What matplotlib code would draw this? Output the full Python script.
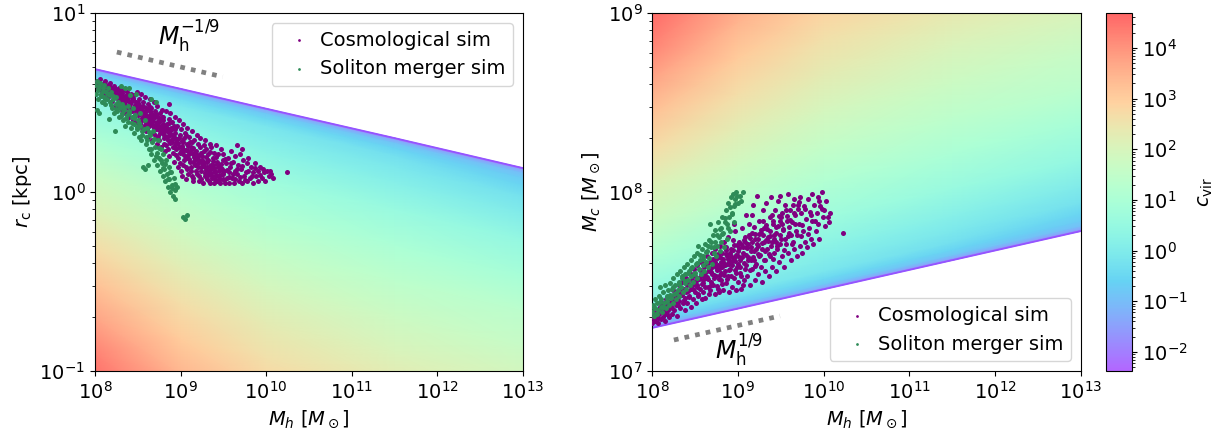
import numpy as np
import matplotlib
matplotlib.use("Agg")
import matplotlib.pyplot as plt
from matplotlib.colors import LogNorm, ListedColormap
from matplotlib.ticker import NullLocator

# ---------------------------------------------------------------------------
# Concentration field c_vir tabulated on (halo mass, depth below the edge)
# ---------------------------------------------------------------------------
field_logMh = [8.0, 9.0, 10.0, 11.5, 13.0]           # log10 M_h [Msun]
rc_edge = [4.86, 3.77, 2.92, 2.00, 1.36]              # largest core radius [kpc]
mc_edge = [1.74e7, 2.23e7, 2.86e7, 4.16e7, 6.05e7]    # smallest core mass [Msun]
field_depth = [0.0, 0.012, 0.03, 0.06, 0.1, 0.16, 0.25, 0.4, 0.6, 0.8,
               1.0, 1.2, 1.4, 1.6, 1.8]                # dex away from the edge
field_logc = [
    [-2.4, -1.2, -0.7, -0.35, -0.05, 0.25, 0.6, 1.1, 1.7, 2.15, 2.7, 3.2, 3.75, 4.3, 4.8],
    [-2.4, -1.25, -0.75, -0.4, -0.1, 0.15, 0.45, 0.85, 1.35, 1.8, 2.25, 2.65, 3.05, 3.45, 3.85],
    [-2.4, -1.3, -0.8, -0.45, -0.15, 0.05, 0.3, 0.7, 1.15, 1.55, 1.95, 2.3, 2.6, 2.95, 3.25],
    [-2.4, -1.35, -0.85, -0.55, -0.3, -0.1, 0.15, 0.55, 1.0, 1.4, 1.75, 2.05, 2.4, 2.7, 3.0],
    [-2.4, -1.4, -0.95, -0.7, -0.5, -0.25, 0.0, 0.45, 0.9, 1.35, 1.65, 2.0, 2.3, 2.6, 2.9],
]
cvir_min, cvir_max = 4.2e-3, 4.9e4

# ---------------------------------------------------------------------------
# Simulated haloes: (log10 M_h, log10 r_c [kpc])
# ---------------------------------------------------------------------------
cosmo_rc = [
    (8.01, 0.60), (8.02, 0.62), (8.03, 0.58), (8.05, 0.61), (8.06, 0.63), (8.07, 0.57),
    (8.09, 0.60), (8.11, 0.55), (8.12, 0.62), (8.13, 0.58),
    (8.15, 0.53), (8.16, 0.60), (8.17, 0.57), (8.18, 0.61),
    (8.20, 0.51), (8.21, 0.56), (8.22, 0.59), (8.23, 0.54),
    (8.25, 0.48), (8.26, 0.57), (8.27, 0.52), (8.28, 0.58), (8.29, 0.50),
    (8.30, 0.55), (8.31, 0.46), (8.32, 0.53), (8.33, 0.57), (8.34, 0.49),
    (8.35, 0.44), (8.36, 0.51), (8.37, 0.56), (8.38, 0.47), (8.39, 0.53),
    (8.40, 0.42), (8.41, 0.49), (8.42, 0.55), (8.43, 0.45), (8.44, 0.52), (8.44, 0.40),
    (8.45, 0.47), (8.46, 0.54), (8.47, 0.43), (8.48, 0.50), (8.49, 0.39), (8.49, 0.56),
    (8.50, 0.45), (8.51, 0.52), (8.52, 0.38), (8.53, 0.48), (8.54, 0.41), (8.54, 0.55),
    (8.55, 0.36), (8.56, 0.50), (8.57, 0.44), (8.58, 0.53), (8.59, 0.39), (8.59, 0.47),
    (8.60, 0.34), (8.61, 0.42), (8.62, 0.49), (8.63, 0.37), (8.64, 0.45), (8.64, 0.52), (8.62, 0.31),
    (8.65, 0.40), (8.66, 0.47), (8.67, 0.33), (8.68, 0.43), (8.69, 0.50), (8.69, 0.36), (8.67, 0.29),
    (8.70, 0.45), (8.71, 0.31), (8.72, 0.39), (8.73, 0.48), (8.74, 0.35), (8.74, 0.42), (8.72, 0.27),
    (8.75, 0.29), (8.76, 0.44), (8.77, 0.37), (8.78, 0.46), (8.79, 0.33), (8.79, 0.40), (8.77, 0.25),
    (8.80, 0.42), (8.81, 0.27), (8.82, 0.35), (8.83, 0.45), (8.84, 0.31), (8.84, 0.38), (8.82, 0.23),
    (8.85, 0.24), (8.86, 0.41), (8.87, 0.33), (8.88, 0.44), (8.89, 0.29), (8.89, 0.36), (8.87, 0.20),
    (8.86, 0.49),
    (8.90, 0.39), (8.91, 0.22), (8.92, 0.31), (8.93, 0.42), (8.94, 0.26), (8.94, 0.35), (8.92, 0.17),
    (8.95, 0.28), (8.96, 0.37), (8.97, 0.14), (8.98, 0.40), (8.99, 0.22), (8.99, 0.32), (8.97, 0.19),
    (9.00, 0.12), (9.01, 0.35), (9.02, 0.25), (9.03, 0.38), (9.04, 0.18), (9.04, 0.30), (9.02, 0.09),
    (9.03, 0.21),
    (9.05, 0.33), (9.06, 0.14), (9.07, 0.27), (9.08, 0.36), (9.09, 0.10), (9.09, 0.23), (9.07, 0.19),
    (9.06, 0.07),
    (9.10, 0.31), (9.11, 0.17), (9.12, 0.25), (9.13, 0.34), (9.14, 0.08), (9.14, 0.21), (9.12, 0.12),
    (9.13, 0.28),
    (9.15, 0.06), (9.16, 0.29), (9.17, 0.15), (9.18, 0.23), (9.19, 0.32), (9.19, 0.10), (9.17, 0.19),
    (9.20, 0.27), (9.21, 0.06), (9.22, 0.17), (9.23, 0.30), (9.24, 0.12), (9.24, 0.22), (9.22, 0.09),
    (9.25, 0.20), (9.26, 0.05), (9.27, 0.26), (9.28, 0.14), (9.29, 0.29), (9.29, 0.09), (9.27, 0.17),
    (9.30, 0.24), (9.31, 0.07), (9.32, 0.18), (9.33, 0.12), (9.34, 0.27), (9.34, 0.05), (9.32, 0.21),
    (9.35, 0.15), (9.36, 0.25), (9.37, 0.09), (9.38, 0.19), (9.39, 0.05), (9.39, 0.22),
    (9.40, 0.12), (9.41, 0.26), (9.42, 0.06), (9.43, 0.17), (9.44, 0.21), (9.44, 0.09),
    (9.45, 0.14), (9.46, 0.05), (9.47, 0.24), (9.48, 0.10), (9.49, 0.18), (9.49, 0.07),
    (9.50, 0.21), (9.51, 0.12), (9.52, 0.05), (9.53, 0.16), (9.54, 0.08),
    (9.55, 0.19), (9.56, 0.11), (9.57, 0.05), (9.58, 0.14), (9.59, 0.23),
    (9.60, 0.08), (9.61, 0.17), (9.62, 0.05), (9.63, 0.12), (9.64, 0.20),
    (9.66, 0.10), (9.67, 0.15), (9.68, 0.06), (9.69, 0.21), (9.66, 0.26),
    (9.71, 0.13), (9.72, 0.05), (9.73, 0.18), (9.74, 0.09), (9.72, 0.24),
    (9.76, 0.11), (9.77, 0.16), (9.78, 0.06), (9.79, 0.19),
    (9.81, 0.08), (9.82, 0.14), (9.84, 0.11), (9.85, 0.05),
    (9.87, 0.16), (9.88, 0.09), (9.90, 0.12), (9.91, 0.06),
    (9.93, 0.14), (9.95, 0.08), (9.97, 0.11), (9.99, 0.06),
    (10.01, 0.12), (10.03, 0.09), (10.06, 0.10), (10.08, 0.08),
    (10.24, 0.11),
    (8.043, 0.594), (8.087, 0.571), (8.128, 0.598), (8.163, 0.553), (8.204, 0.577),
    (8.236, 0.528), (8.262, 0.546), (8.297, 0.566), (8.318, 0.512), (8.347, 0.538),
    (8.366, 0.482), (8.392, 0.507), (8.415, 0.463), (8.433, 0.531), (8.457, 0.418),
    (8.472, 0.488), (8.497, 0.431), (8.512, 0.468), (8.534, 0.397), (8.548, 0.456),
    (8.566, 0.418), (8.583, 0.377), (8.597, 0.432), (8.612, 0.352), (8.628, 0.406),
    (8.643, 0.476), (8.657, 0.381), (8.676, 0.418), (8.694, 0.324), (8.706, 0.372),
    (8.718, 0.433), (8.735, 0.311), (8.752, 0.393), (8.768, 0.347), (8.786, 0.418),
    (8.803, 0.302), (8.817, 0.364), (8.834, 0.262), (8.852, 0.338), (8.868, 0.387),
    (8.876, 0.272), (8.897, 0.318), (8.912, 0.253), (8.928, 0.368), (8.946, 0.207),
    (8.962, 0.297), (8.978, 0.252), (8.993, 0.163), (9.012, 0.287), (9.027, 0.153),
    (9.043, 0.236), (9.058, 0.318), (9.073, 0.129), (9.088, 0.204), (9.104, 0.277),
    (9.118, 0.142), (9.133, 0.092), (9.147, 0.247), (9.163, 0.178), (9.178, 0.116),
    (9.193, 0.206), (9.208, 0.142), (9.224, 0.253), (9.238, 0.074), (9.254, 0.162),
    (9.268, 0.227), (9.283, 0.108), (9.298, 0.193), (9.313, 0.138), (9.327, 0.062),
    (9.344, 0.223), (9.358, 0.107), (9.373, 0.173), (9.387, 0.132), (9.404, 0.073),
    (9.418, 0.196), (9.433, 0.137), (9.452, 0.092), (9.467, 0.157), (9.484, 0.126),
    (9.503, 0.067), (9.522, 0.183), (9.543, 0.122), (9.566, 0.083), (9.588, 0.164),
    (9.612, 0.103), (9.637, 0.071), (9.662, 0.131), (9.694, 0.084), (9.723, 0.143),
    (9.756, 0.068), (9.792, 0.117), (9.832, 0.087), (9.874, 0.133), (9.923, 0.097),
    (9.962, 0.128), (10.04, 0.115),
    (8.060, 0.585), (8.105, 0.607), (8.141, 0.566), (8.173, 0.588), (8.221, 0.552),
    (8.248, 0.574), (8.283, 0.531), (8.311, 0.552), (8.327, 0.497), (8.356, 0.522),
    (8.381, 0.541), (8.402, 0.478), (8.424, 0.503), (8.448, 0.521), (8.466, 0.457),
    (8.487, 0.478), (8.503, 0.497), (8.521, 0.437), (8.542, 0.472), (8.561, 0.483),
    (8.573, 0.407), (8.592, 0.451), (8.607, 0.466), (8.618, 0.392), (8.637, 0.428),
    (8.651, 0.443), (8.668, 0.372), (8.683, 0.398), (8.697, 0.418), (8.713, 0.351),
    (8.728, 0.377), (8.743, 0.401), (8.758, 0.327), (8.773, 0.359), (8.791, 0.379),
    (8.807, 0.318), (8.822, 0.342), (8.838, 0.357), (8.857, 0.293), (8.872, 0.321),
    (8.884, 0.348), (8.903, 0.278), (8.918, 0.301), (8.933, 0.327), (8.952, 0.243),
    (8.967, 0.272), (8.983, 0.302), (9.003, 0.231), (9.017, 0.257), (9.033, 0.281),
    (9.051, 0.203), (9.066, 0.232), (9.081, 0.258), (9.096, 0.183), (9.112, 0.216),
    (9.127, 0.236), (9.143, 0.168), (9.157, 0.198), (9.172, 0.224), (9.188, 0.157),
    (9.203, 0.184), (9.218, 0.207), (9.233, 0.137), (9.248, 0.181), (9.263, 0.148),
    (9.278, 0.163), (9.293, 0.124), (9.308, 0.167), (9.323, 0.096), (9.338, 0.148),
    (9.353, 0.131), (9.368, 0.078), (9.383, 0.153), (9.398, 0.114), (9.413, 0.093),
    (9.428, 0.158), (9.443, 0.117), (9.458, 0.072), (9.473, 0.134), (9.492, 0.103),
]

merger_rc = [
    (8.00, 0.60), (8.01, 0.55), (8.02, 0.62), (8.03, 0.57), (8.04, 0.52), (8.05, 0.59),
    (8.06, 0.61), (8.07, 0.55), (8.08, 0.50), (8.09, 0.58), (8.10, 0.53), (8.11, 0.60),
    (8.12, 0.49), (8.13, 0.56), (8.14, 0.52), (8.15, 0.58), (8.16, 0.41), (8.17, 0.54),
    (8.02, 0.46), (8.05, 0.44),
    (8.18, 0.50), (8.19, 0.56), (8.20, 0.47), (8.21, 0.52), (8.22, 0.44), (8.23, 0.34),
    (8.24, 0.49), (8.25, 0.53), (8.26, 0.45), (8.27, 0.50), (8.28, 0.42), (8.29, 0.47),
    (8.30, 0.59), (8.31, 0.44), (8.32, 0.49), (8.33, 0.40), (8.34, 0.46), (8.35, 0.58),
    (8.35, 0.37), (8.40, 0.58),
    (8.37, 0.43), (8.38, 0.48), (8.39, 0.39), (8.40, 0.45), (8.41, 0.54), (8.42, 0.36),
    (8.43, 0.42), (8.44, 0.47), (8.45, 0.38), (8.46, 0.33), (8.47, 0.43), (8.48, 0.55),
    (8.49, 0.35), (8.50, 0.40), (8.51, 0.31), (8.52, 0.37), (8.53, 0.44), (8.54, 0.29),
    (8.55, 0.34),
    (8.56, 0.14), (8.58, 0.40), (8.58, 0.13), (8.59, 0.31), (8.60, 0.27), (8.61, 0.36),
    (8.62, 0.15), (8.63, 0.24), (8.64, 0.32), (8.65, 0.52), (8.66, 0.21), (8.67, 0.28),
    (8.68, 0.34), (8.69, 0.18), (8.70, 0.25), (8.71, 0.50), (8.72, 0.22), (8.73, 0.15),
    (8.74, 0.29), (8.75, 0.19),
    (8.76, 0.12), (8.77, 0.24), (8.78, 0.16), (8.79, 0.09), (8.80, 0.21), (8.81, 0.13),
    (8.82, 0.06), (8.83, 0.18), (8.84, 0.10), (8.85, 0.03), (8.86, 0.14), (8.87, 0.07),
    (8.88, 0.00), (8.89, 0.11), (8.90, 0.04), (8.91, -0.02), (8.92, 0.08), (8.93, 0.01),
    (8.94, -0.04), (8.96, 0.03),
    (9.03, -0.14), (9.05, -0.15), (9.07, -0.13),
    (8.033, 0.578), (8.067, 0.534), (8.094, 0.563), (8.122, 0.517), (8.151, 0.547),
    (8.183, 0.487), (8.214, 0.538), (8.243, 0.463), (8.277, 0.488), (8.306, 0.427),
    (8.338, 0.473), (8.367, 0.413), (8.398, 0.442), (8.427, 0.387), (8.458, 0.412),
    (8.487, 0.364), (8.518, 0.386), (8.548, 0.318), (8.575, 0.353), (8.603, 0.293),
    (8.633, 0.336), (8.658, 0.243), (8.687, 0.296), (8.713, 0.203), (8.742, 0.248),
    (8.768, 0.176), (8.795, 0.133), (8.823, 0.157), (8.848, 0.073), (8.873, 0.113),
    (8.902, 0.022), (8.937, 0.046),
]

# Simulated haloes: (log10 M_h, log10 M_c [Msun])
cosmo_mc = [
    (7.99, 7.30), (8.00, 7.27), (8.01, 7.33), (8.02, 7.29), (8.03, 7.31), (8.04, 7.28),
    (8.05, 7.34), (8.06, 7.30), (8.07, 7.27), (8.08, 7.32), (8.09, 7.36), (8.10, 7.29),
    (8.11, 7.33), (8.12, 7.38), (8.13, 7.30), (8.14, 7.35), (8.15, 7.28), (8.16, 7.40),
    (8.17, 7.32), (8.18, 7.37), (8.19, 7.34), (8.20, 7.30),
    (8.21, 7.42), (8.22, 7.36), (8.23, 7.32), (8.24, 7.39), (8.25, 7.45), (8.26, 7.34),
    (8.27, 7.41), (8.28, 7.37), (8.29, 7.31), (8.30, 7.44),
    (8.31, 7.39), (8.32, 7.48), (8.33, 7.35), (8.34, 7.43), (8.35, 7.50), (8.36, 7.38),
    (8.37, 7.46), (8.38, 7.41), (8.39, 7.34), (8.40, 7.52), (8.40, 7.44),
    (8.41, 7.38), (8.42, 7.49), (8.43, 7.42), (8.44, 7.55), (8.45, 7.36), (8.46, 7.46),
    (8.47, 7.51), (8.48, 7.40), (8.49, 7.57), (8.50, 7.44), (8.50, 7.53),
    (8.51, 7.38), (8.52, 7.48), (8.53, 7.59), (8.54, 7.42), (8.55, 7.52), (8.56, 7.46),
    (8.57, 7.61), (8.58, 7.40), (8.59, 7.55), (8.60, 7.49), (8.60, 7.44),
    (8.61, 7.58), (8.62, 7.41), (8.63, 7.52), (8.64, 7.64), (8.65, 7.47), (8.66, 7.56),
    (8.67, 7.43), (8.68, 7.61), (8.69, 7.50), (8.70, 7.54), (8.70, 7.66), (8.68, 7.45),
    (8.71, 7.48), (8.72, 7.59), (8.73, 7.43), (8.74, 7.68), (8.75, 7.53), (8.76, 7.63),
    (8.77, 7.46), (8.78, 7.57), (8.79, 7.70), (8.80, 7.51), (8.80, 7.61), (8.78, 7.44),
    (8.81, 7.55), (8.82, 7.66), (8.83, 7.45), (8.84, 7.72), (8.85, 7.59), (8.86, 7.49),
    (8.87, 7.64), (8.88, 7.53), (8.89, 7.75), (8.90, 7.62), (8.90, 7.44), (8.86, 7.69),
    (8.91, 7.57), (8.92, 7.68), (8.93, 7.47), (8.94, 7.73), (8.95, 7.52), (8.96, 7.63),
    (8.97, 7.78), (8.98, 7.45), (8.99, 7.58), (9.00, 7.67), (9.00, 7.50), (8.96, 7.82),
    (9.01, 7.72), (9.02, 7.55), (9.03, 7.62), (9.04, 7.46), (9.05, 7.80), (9.06, 7.69),
    (9.07, 7.51), (9.08, 7.75), (9.09, 7.59), (9.10, 7.65), (9.10, 7.87), (9.06, 7.48),
    (9.11, 7.53), (9.12, 7.71), (9.13, 7.82), (9.14, 7.48), (9.15, 7.62), (9.16, 7.77),
    (9.17, 7.57), (9.18, 7.93), (9.19, 7.67), (9.20, 7.51), (9.20, 7.74), (9.16, 7.87),
    (9.21, 7.60), (9.22, 7.98), (9.23, 7.70), (9.24, 7.54), (9.25, 7.84), (9.26, 7.65),
    (9.27, 7.77), (9.28, 7.50), (9.29, 7.90), (9.30, 7.62), (9.30, 7.72),
    (9.31, 7.80), (9.32, 7.56), (9.33, 7.94), (9.34, 7.68), (9.35, 7.75), (9.36, 7.53),
    (9.37, 7.86), (9.38, 7.64), (9.39, 7.97), (9.40, 7.72), (9.40, 7.58),
    (9.41, 7.82), (9.42, 7.66), (9.43, 7.90), (9.44, 7.56), (9.45, 7.77), (9.46, 7.70),
    (9.47, 7.95), (9.48, 7.61), (9.49, 7.84), (9.50, 7.74), (9.49, 7.98),
    (9.51, 7.64), (9.52, 7.88), (9.53, 7.79), (9.54, 7.58), (9.55, 7.93), (9.56, 7.71),
    (9.57, 7.84), (9.58, 7.99), (9.59, 7.66), (9.60, 7.77),
    (9.61, 7.90), (9.62, 7.62), (9.63, 7.83), (9.64, 7.72), (9.65, 7.96), (9.66, 7.68),
    (9.67, 7.87), (9.68, 7.78), (9.69, 7.64), (9.70, 7.93),
    (9.71, 7.82), (9.72, 7.70), (9.73, 7.97), (9.74, 7.88), (9.75, 7.66), (9.76, 7.78),
    (9.77, 7.92), (9.78, 7.72), (9.79, 7.85),
    (9.81, 7.69), (9.82, 7.96), (9.83, 7.80), (9.84, 7.89), (9.85, 7.74), (9.86, 7.99),
    (9.87, 7.84), (9.88, 7.71), (9.89, 7.93),
    (9.91, 7.78), (9.92, 7.88), (9.93, 7.97), (9.94, 7.82), (9.95, 7.74), (9.96, 7.92),
    (9.98, 8.00), (9.99, 7.86),
    (10.01, 7.90), (10.02, 7.81), (10.03, 7.95), (10.05, 7.86), (10.06, 7.83), (10.07, 7.88),
    (10.23, 7.77),
    (8.037, 7.312), (8.074, 7.295), (8.118, 7.353), (8.157, 7.318), (8.196, 7.386),
    (8.233, 7.352), (8.268, 7.427), (8.302, 7.371), (8.338, 7.455), (8.372, 7.398),
    (8.406, 7.478), (8.437, 7.416), (8.468, 7.532), (8.483, 7.458), (8.516, 7.503),
    (8.535, 7.428), (8.562, 7.563), (8.578, 7.487), (8.604, 7.532), (8.622, 7.468),
    (8.641, 7.596), (8.657, 7.512), (8.674, 7.563), (8.693, 7.482), (8.708, 7.624),
    (8.724, 7.537), (8.741, 7.582), (8.757, 7.473), (8.772, 7.652), (8.788, 7.536),
    (8.804, 7.587), (8.817, 7.487), (8.833, 7.628), (8.848, 7.561), (8.863, 7.676),
    (8.877, 7.513), (8.893, 7.597), (8.908, 7.658), (8.922, 7.531), (8.937, 7.617),
    (8.953, 7.703), (8.968, 7.566), (8.983, 7.648), (9.004, 7.597), (9.018, 7.688),
    (9.034, 7.532), (9.052, 7.636), (9.067, 7.733), (9.083, 7.568), (9.097, 7.692),
    (9.114, 7.618), (9.128, 7.758), (9.143, 7.563), (9.158, 7.694), (9.174, 7.636),
    (9.189, 7.803), (9.205, 7.588), (9.219, 7.708), (9.236, 7.652), (9.252, 7.763),
    (9.267, 7.583), (9.283, 7.684), (9.297, 7.836), (9.314, 7.618), (9.328, 7.733),
    (9.346, 7.792), (9.362, 7.653), (9.377, 7.754), (9.393, 7.873), (9.408, 7.627),
    (9.424, 7.738), (9.443, 7.806), (9.462, 7.683), (9.478, 7.867), (9.497, 7.712),
    (9.518, 7.823), (9.538, 7.677), (9.561, 7.897), (9.582, 7.753), (9.604, 7.842),
    (9.632, 7.708), (9.658, 7.882), (9.686, 7.757), (9.717, 7.943), (9.748, 7.813),
    (9.782, 7.903), (9.816, 7.767), (9.852, 7.874), (9.897, 7.838), (9.946, 7.952),
    (9.983, 7.903),
    (8.048, 7.318), (8.092, 7.342), (8.137, 7.327), (8.176, 7.361), (8.214, 7.372),
    (8.251, 7.398), (8.284, 7.391), (8.317, 7.418), (8.354, 7.427), (8.388, 7.452),
    (8.422, 7.447), (8.453, 7.474), (8.492, 7.487), (8.524, 7.468), (8.548, 7.512),
    (8.571, 7.531), (8.596, 7.506), (8.617, 7.548), (8.636, 7.523), (8.662, 7.571),
    (8.683, 7.552), (8.703, 7.581), (8.719, 7.517), (8.738, 7.607), (8.753, 7.566),
    (8.767, 7.594), (8.784, 7.512), (8.797, 7.638), (8.813, 7.582), (8.828, 7.611),
    (8.843, 7.537), (8.857, 7.652), (8.872, 7.598), (8.887, 7.628), (8.902, 7.567),
    (8.917, 7.643), (8.932, 7.592), (8.947, 7.678), (8.962, 7.613), (8.977, 7.547),
    (8.992, 7.703), (9.007, 7.641), (9.022, 7.582), (9.037, 7.712), (9.056, 7.662),
    (9.072, 7.603), (9.088, 7.723), (9.104, 7.687), (9.121, 7.638), (9.137, 7.742),
    (9.152, 7.671), (9.168, 7.722), (9.184, 7.618), (9.201, 7.768), (9.217, 7.683),
    (9.233, 7.737), (9.249, 7.642), (9.265, 7.787), (9.281, 7.713), (9.298, 7.758),
    (9.317, 7.672), (9.333, 7.813), (9.352, 7.727), (9.371, 7.782), (9.389, 7.697),
    (9.407, 7.837), (9.426, 7.757), (9.447, 7.723), (9.466, 7.811), (9.487, 7.757),
    (9.508, 7.862), (9.531, 7.792), (9.553, 7.737), (9.576, 7.867), (9.598, 7.807),
    (9.622, 7.758), (9.647, 7.927), (9.672, 7.823), (9.697, 7.903), (9.742, 7.752),
]

merger_mc = [
    (8.00, 7.33), (8.01, 7.37), (8.02, 7.31), (8.03, 7.40), (8.04, 7.35), (8.05, 7.32),
    (8.06, 7.38), (8.07, 7.34), (8.08, 7.42), (8.09, 7.47), (8.10, 7.36), (8.11, 7.40),
    (8.12, 7.33), (8.13, 7.44), (8.14, 7.38), (8.15, 7.48), (8.16, 7.35), (8.17, 7.42),
    (8.18, 7.39), (8.19, 7.45),
    (8.20, 7.37), (8.21, 7.49), (8.22, 7.41), (8.23, 7.46), (8.24, 7.38), (8.25, 7.52),
    (8.26, 7.43), (8.27, 7.48), (8.28, 7.40), (8.29, 7.54), (8.30, 7.45), (8.31, 7.50),
    (8.32, 7.42), (8.33, 7.56), (8.34, 7.47), (8.35, 7.52), (8.36, 7.44), (8.37, 7.58),
    (8.38, 7.49), (8.39, 7.54),
    (8.40, 7.46), (8.41, 7.60), (8.42, 7.51), (8.43, 7.56), (8.44, 7.48), (8.45, 7.62),
    (8.46, 7.53), (8.47, 7.58), (8.48, 7.50), (8.49, 7.64), (8.50, 7.55), (8.51, 7.60),
    (8.52, 7.52), (8.53, 7.66), (8.54, 7.70), (8.55, 7.57), (8.56, 7.62), (8.57, 7.54),
    (8.58, 7.68), (8.59, 7.59),
    (8.60, 7.64), (8.61, 7.56), (8.62, 7.71), (8.63, 7.61), (8.64, 7.67), (8.65, 7.58),
    (8.66, 7.73), (8.67, 7.63), (8.68, 7.82), (8.69, 7.69), (8.70, 7.60), (8.71, 7.76),
    (8.72, 7.66), (8.73, 7.72), (8.74, 7.79), (8.75, 7.64), (8.76, 7.70), (8.77, 7.83),
    (8.78, 7.75), (8.79, 7.67),
    (8.80, 7.80), (8.81, 7.72), (8.82, 7.86), (8.83, 7.77), (8.84, 7.69), (8.85, 7.83),
    (8.86, 7.90), (8.87, 7.74), (8.88, 7.80), (8.89, 7.94), (8.90, 7.86), (8.91, 7.78),
    (8.92, 7.97), (8.93, 7.88), (8.94, 7.99), (8.95, 7.83), (8.96, 7.92), (8.97, 7.96),
    (8.98, 8.00), (9.00, 7.94), (9.02, 7.98), (9.04, 7.95), (9.06, 8.00),
    (8.027, 7.352), (8.063, 7.318), (8.096, 7.388), (8.133, 7.357), (8.171, 7.407),
    (8.207, 7.427), (8.243, 7.468), (8.277, 7.433), (8.312, 7.487), (8.347, 7.533),
    (8.383, 7.503), (8.418, 7.548), (8.452, 7.578), (8.487, 7.542), (8.523, 7.603),
    (8.556, 7.648), (8.592, 7.624), (8.627, 7.663), (8.658, 7.698), (8.693, 7.722),
    (8.727, 7.693), (8.757, 7.757), (8.788, 7.792), (8.818, 7.764), (8.847, 7.853),
    (8.878, 7.823), (8.907, 7.917), (8.937, 7.876), (8.968, 7.934), (8.990, 7.975),
]

# Power-law guides (end points)
guide_Mh = [1.8e8, 3.1e9]
guide_rc = [6.05, 4.40]
guide_mc = [1.49e7, 2.03e7]

# ---------------------------------------------------------------------------
W, H = 1229, 436
fig = plt.figure(figsize=(W / 100, H / 100), dpi=100)
bottom, height = 1 - 371 / H, (371 - 13) / H
ax1 = fig.add_axes([95 / W, bottom, 428 / W, height])
ax2 = fig.add_axes([652 / W, bottom, 429 / W, height])
cax = fig.add_axes([1106 / W, bottom, 26 / W, height])

fs = 14
# rainbow washed over white (60 % opacity), stored as opaque colours
base = plt.get_cmap("rainbow")(np.linspace(0, 1, 256))
base[:, :3] = 0.6 * base[:, :3] + 0.4
pale_rainbow = ListedColormap(base, name="pale_rainbow")
norm = LogNorm(vmin=cvir_min, vmax=cvir_max)
edge_color = (0.58, 0.33, 1.0)

nd = len(field_depth)
Mh_nodes = 10.0 ** np.array(field_logMh)
Xg = np.tile(Mh_nodes, (nd, 1))
Dg = np.array(field_depth)[:, None]
Cg = 10.0 ** np.array(field_logc).T
Y_rc = np.array(rc_edge)[None, :] * 10.0 ** (-Dg)
Y_mc = np.array(mc_edge)[None, :] * 10.0 ** Dg

mesh = ax1.pcolormesh(Xg, Y_rc, Cg, shading="gouraud", cmap=pale_rainbow,
                      norm=norm, antialiased=False, zorder=0, rasterized=True)
ax2.pcolormesh(Xg, Y_mc, Cg, shading="gouraud", cmap=pale_rainbow,
               norm=norm, antialiased=False, zorder=0, rasterized=True)
ax1.plot(Mh_nodes, rc_edge, color=edge_color, lw=1.3, zorder=1)
ax2.plot(Mh_nodes, mc_edge, color=edge_color, lw=1.3, zorder=1)


def scatter_pairs(ax, pairs, color, label):
    arr = np.array(pairs)
    ax.scatter(10.0 ** arr[:, 0], 10.0 ** arr[:, 1], s=13, c=color,
               linewidths=0, label=label, zorder=3)


scatter_pairs(ax1, cosmo_rc, "purple", "Cosmological sim")
scatter_pairs(ax1, merger_rc, "seagreen", "Soliton merger sim")
scatter_pairs(ax2, cosmo_mc, "purple", "Cosmological sim")
scatter_pairs(ax2, merger_mc, "seagreen", "Soliton merger sim")

ax1.plot(guide_Mh, guide_rc, color="gray", lw=3.4, ls=(0, (1, 1.3)),
         solid_capstyle="butt", zorder=4)
ax2.plot(guide_Mh, guide_mc, color="gray", lw=3.4, ls=(0, (1, 1.3)),
         solid_capstyle="butt", zorder=4)
ax1.text(1.26e9, 7.4, r"$M_{\rm h}^{-1/9}$", fontsize=17, ha="center", va="center")
ax2.text(1.02e9, 1.31e7, r"$M_{\rm h}^{1/9}$", fontsize=17, ha="center", va="center")

for ax in (ax1, ax2):
    ax.set_xscale("log")
    ax.set_yscale("log")
    ax.set_xlim(1e8, 1e13)
    ax.xaxis.set_minor_locator(NullLocator())
    ax.tick_params(labelsize=fs)
    ax.set_xlabel(r"$M_h$ [$M_\odot$]", fontsize=fs)

ax1.set_ylim(0.1, 10)
ax2.set_ylim(1e7, 1e9)
ax1.set_ylabel(r"$r_{\rm c}$ [kpc]", fontsize=fs)
ax2.set_ylabel(r"$M_c$ [$M_\odot$]", fontsize=fs)

leg_kw = dict(fontsize=fs, markerscale=0.55, handletextpad=0.1, borderaxespad=0.5)
ax1.legend(loc="upper right", **leg_kw)
ax2.legend(loc="lower right", **leg_kw)

cb = fig.colorbar(mesh, cax=cax)
cb.ax.tick_params(labelsize=fs)
cb.set_label(r"$c_{\rm vir}$", fontsize=fs, labelpad=6)

fig.savefig("out.png", dpi=100)
